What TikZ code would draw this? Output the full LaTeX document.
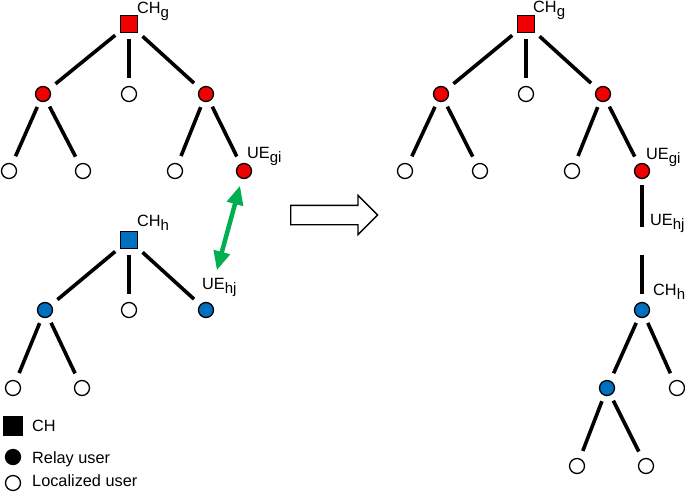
\documentclass[tikz,border=0pt]{standalone}
\usepackage{fontspec}
\setmainfont{Liberation Sans}
\usetikzlibrary{arrows.meta,shapes.arrows}
\definecolor{chred}{RGB}{240,0,0}
\definecolor{chblue}{RGB}{0,112,192}
\definecolor{linkgreen}{RGB}{0,176,80}
\newcommand{\lowsub}[1]{\raisebox{-4pt}{\fontsize{15}{15}\selectfont #1}}
\begin{document}
\begin{tikzpicture}[x=1pt,y=-1pt]
        \tikzstyle{ch_style} = [rectangle,draw=black,minimum size=17pt,inner sep=0pt,line width=1.3pt]
        \tikzstyle{user_style} = [circle,draw=black,fill=white,minimum size=15pt,inner sep=0pt,line width=1.3pt]
        \tikzstyle{edge_style} = [line width=3.6pt,shorten <=6pt,shorten >=8pt]
        \tikzstyle{text_style} = [inner sep=0pt,anchor=base west,font=\fontsize{16.3}{19}\selectfont]
        \useasboundingbox (0,0) rectangle (685,491);
        % left cluster g
        \node[ch_style,fill=chred] (chg) at (129,24) {};
        \node[user_style,fill=chred] (g1) at (43,94) {};
        \node[user_style] (g2) at (129,94) {};
        \node[user_style,fill=chred] (g3) at (206,94) {};
        \node[user_style] (g11) at (9,171) {};
        \node[user_style] (g12) at (83,171) {};
        \node[user_style] (g31) at (175,171) {};
        \node[user_style,fill=chred] (uegi) at (244,171) {};
        \node[text_style] (lbl_chg) at (137,13) {CH\lowsub{g}};
        \node[text_style] (lbl_uegi) at (247,158) {UE\lowsub{gi}};
        \foreach \a/\b in {chg/g1,chg/g2,chg/g3,g1/g11,g1/g12,g3/g31,g3/uegi}
          \draw[edge_style] (\a) -- (\b);
        % left cluster h
        \node[ch_style,fill=chblue] (chh) at (129,240) {};
        \node[user_style,fill=chblue] (h1) at (45,310) {};
        \node[user_style] (h2) at (129,310) {};
        \node[user_style,fill=chblue] (uehj) at (206,310) {};
        \node[user_style] (h11) at (13,388) {};
        \node[user_style] (h12) at (82,388) {};
        \node[text_style] (lbl_chh) at (137,226) {CH\lowsub{h}};
        \node[text_style] (lbl_uehj) at (202,289) {UE\lowsub{hj}};
        \foreach \a/\b in {chh/h1,chh/h2,chh/uehj,h1/h11,h1/h12}
          \draw[edge_style] (\a) -- (\b);
        % link between the two relays
        \draw[line width=4.5pt,linkgreen,shorten <=7pt,shorten >=33pt,
          {Triangle[length=19pt,width=16pt]}-{Triangle[length=19pt,width=16pt]}] (uegi) -- (uehj);
        % transition
        \node[single arrow,draw=black,fill=white,line width=1.4pt,inner xsep=0pt,inner ysep=9pt,
          minimum height=87pt,single arrow head extend=10pt,anchor=tail] (shift_arrow) at (290,215) {};
        % merged cluster
        \node[ch_style,fill=chred] (chg_r) at (526,24) {};
        \node[user_style,fill=chred] (g1_r) at (441,94) {};
        \node[user_style] (g2_r) at (526,94) {};
        \node[user_style,fill=chred] (g3_r) at (603,94) {};
        \node[user_style] (g11_r) at (405,171) {};
        \node[user_style] (g12_r) at (480,171) {};
        \node[user_style] (g31_r) at (572,171) {};
        \node[user_style,fill=chred] (uegi_r) at (642,171) {};
        \coordinate (uehj_r) at (642,241);
        \node[user_style,fill=chblue] (chh_r) at (642,310) {};
        \node[user_style,fill=chblue] (h1_r) at (607,388) {};
        \node[user_style] (h2_r) at (677,388) {};
        \node[user_style] (h11_r) at (577,466) {};
        \node[user_style] (h12_r) at (646,466) {};
        \node[text_style] (lbl_chg_r) at (533,12) {CH\lowsub{g}};
        \node[text_style] (lbl_uegi_r) at (646,159) {UE\lowsub{gi}};
        \node[text_style] (lbl_uehj_r) at (650,225) {UE\lowsub{hj}};
        \node[text_style] (lbl_chh_r) at (653,295) {CH\lowsub{h}};
        \foreach \a/\b in {chg_r/g1_r,chg_r/g2_r,chg_r/g3_r,g1_r/g11_r,g1_r/g12_r,g3_r/g31_r,g3_r/uegi_r,chh_r/h1_r,chh_r/h2_r,h1_r/h11_r,h1_r/h12_r}
          \draw[edge_style] (\a) -- (\b);
        \draw[edge_style,shorten >=14pt] (uegi_r) -- (uehj_r);
        \draw[edge_style,shorten <=14pt] (uehj_r) -- (chh_r);
        % legend
        \node[ch_style,fill=black,minimum size=18pt] (key_ch) at (13,426) {};
        \node[user_style,fill=black] (key_relay) at (13,457) {};
        \node[user_style] (key_local) at (13,483) {};
        \node[text_style] (key_ch_text) at (32,431) {CH};
        \node[text_style] (key_relay_text) at (32,463) {Relay user};
        \node[text_style] (key_local_text) at (32,486) {Localized user};
      \end{tikzpicture}
\end{document}
